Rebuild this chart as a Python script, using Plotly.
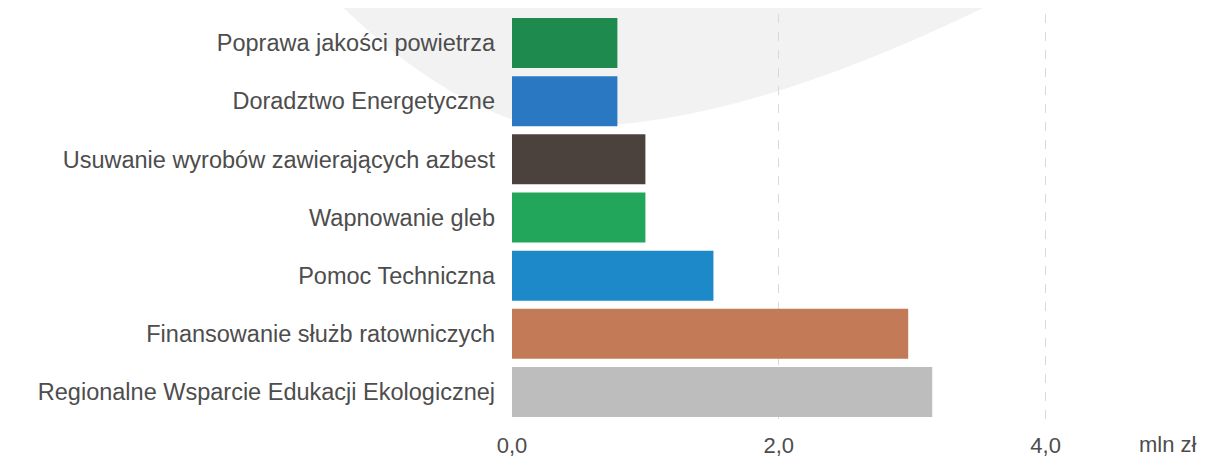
import plotly.graph_objects as go

categories = [
    "Poprawa jakości powietrza",
    "Doradztwo Energetyczne",
    "Usuwanie wyrobów zawierających azbest",
    "Wapnowanie gleb",
    "Pomoc Techniczna",
    "Finansowanie służb ratowniczych",
    "Regionalne Wsparcie Edukacji Ekologicznej",
]
values = [0.79, 0.79, 1.0, 1.0, 1.51, 2.97, 3.15]
colors = ["#1f8a4e", "#2a78c2", "#4b423e", "#22a65b", "#1e89c9", "#c27b56", "#bdbdbd"]
tick_vals = [0, 2, 4]
tick_text = ["0,0", "2,0", "4,0"]
unit_label = "mln zł"

# page has an 8px body margin: figure spans page x 8..1208, y 8..461
OFF = 8
W, H = 1200, 453
L, R, T, B = 504, 28.5, 6, 39.5
pw, ph = W - L - R, H - T - B


def px(xpage):
    return (xpage - OFF - L) / pw


def py(ypage):
    return (H - B - (ypage - OFF)) / ph


fig = go.Figure(
    go.Bar(
        x=values,
        y=categories,
        orientation="h",
        marker=dict(color=colors, line=dict(width=0)),
        hoverinfo="x+y",
    )
)

# faint background blob from the scanned page
blob = (
    f"M {px(330)} {py(-5)} "
    f"Q {px(430)} {py(95)} {px(520)} {py(122)} "
    f"Q {px(700)} {py(150)} {px(1010)} {py(-5)} Z"
)
fig.add_shape(type="path", path=blob, xref="paper", yref="paper",
              fillcolor="#f2f2f2", line=dict(width=0), layer="below")

fig.add_annotation(
    text=unit_label, x=px(1168), y=py(445), xref="paper", yref="paper",
    showarrow=False, font=dict(size=22, color="#4d4d4d"),
    xanchor="center", yanchor="middle",
)

fig.update_layout(
    width=W, height=H,
    margin=dict(l=L, r=R, t=T, b=B, pad=0, autoexpand=False),
    paper_bgcolor="white", plot_bgcolor="rgba(0,0,0,0)",
    font=dict(family="Liberation Sans, Arial, sans-serif", size=23.5, color="#4d4d4d"),
    bargap=0.14,
    showlegend=False,
    xaxis=dict(
        range=[0, 5], tickvals=tick_vals, ticktext=tick_text,
        showgrid=True, gridcolor="#d9d9d9", griddash="dash", gridwidth=1,
        zeroline=False, showline=False, automargin=False,
        ticks="", ticklabelstandoff=9,
        tickfont=dict(size=22),
    ),
    yaxis=dict(
        autorange="reversed", showgrid=False, zeroline=False, showline=False,
        automargin=False,
        ticks="", ticklabelstandoff=16,
        tickfont=dict(size=23.5),
    ),
)

fig.write_html("out.html")
